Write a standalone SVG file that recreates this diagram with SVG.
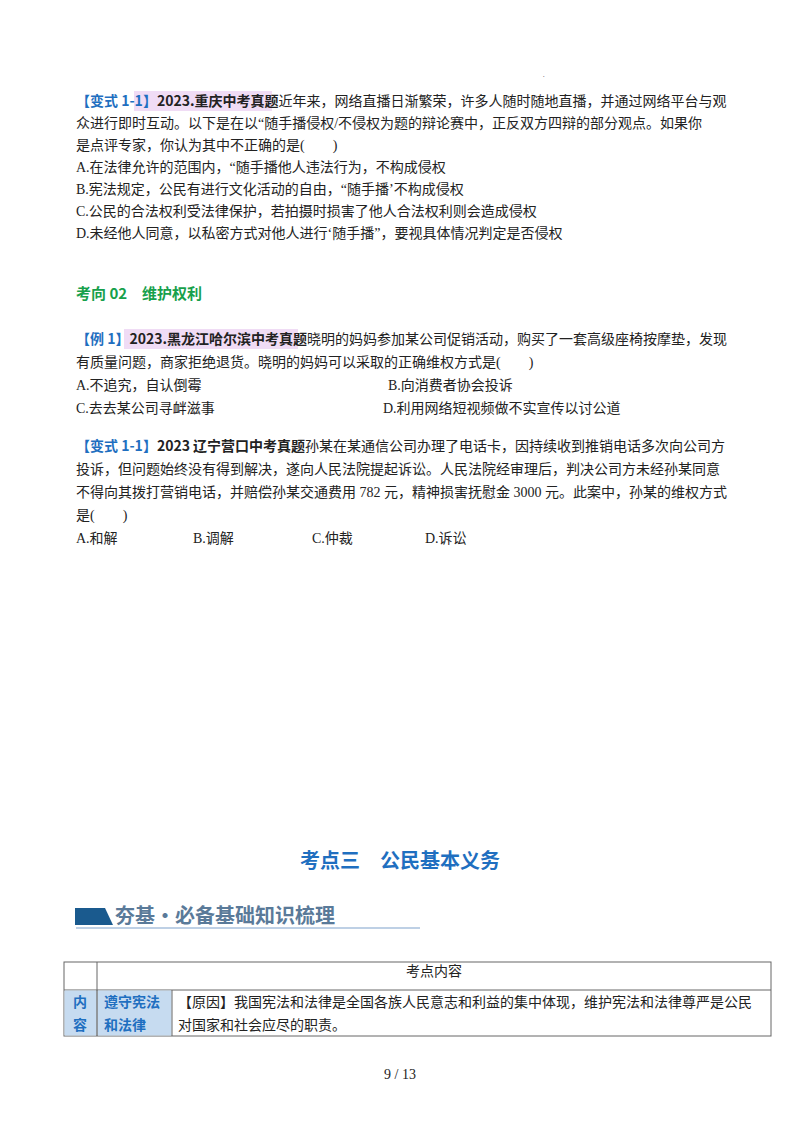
<svg xmlns="http://www.w3.org/2000/svg" width="800" height="1132" viewBox="0 0 800 1132">
<style>
text{font-family:"Liberation Serif","Noto Sans CJK SC",serif;font-size:14px;fill:#222}
.b{fill:#1f6fc0;font-weight:bold;font-family:"Noto Sans CJK SC",sans-serif}
.k{font-weight:bold;font-family:"Noto Sans CJK SC",sans-serif}
.g{fill:#17a04b;font-weight:bold;font-family:"Noto Sans CJK SC",sans-serif;font-size:15px}
.c{fill:#1f6fc0;font-weight:bold;font-family:"Noto Sans CJK SC",sans-serif}
.h{font-size:20px}
</style>
<rect width="800" height="1132" fill="#fff"/>
<text x="543" y="77" style="font-size:6px">.</text>
<rect x="134" y="91" width="138" height="20" fill="#f0dcf5"/>
<text x="76" y="106"><tspan class="b">【变式 1-1】</tspan><tspan class="k">2023.重庆中考真题</tspan>近年来，网络直播日渐繁荣，许多人随时随地直播，并通过网络平台与观</text>
<text x="76" y="128">众进行即时互动。以下是在以“随手播侵权/不侵权为题的辩论赛中，正反双方四辩的部分观点。如果你</text>
<text x="76" y="150">是点评专家，你认为其中不正确的是(　　)</text>
<text x="76" y="172">A.在法律允许的范围内，“随手播他人违法行为，不构成侵权</text>
<text x="76" y="194">B.宪法规定，公民有进行文化活动的自由，“随手播’不构成侵权</text>
<text x="76" y="216">C.公民的合法权利受法律保护，若拍摄时损害了他人合法权利则会造成侵权</text>
<text x="76" y="238">D.未经他人同意，以私密方式对他人进行‘随手播”，要视具体情况判定是否侵权</text>
<text x="76" y="299" class="g">考向 02　维护权利</text>
<rect x="124" y="329" width="174" height="20" fill="#f0dcf5"/>
<text x="76" y="344"><tspan class="b">【例 1】</tspan><tspan class="k">2023.黑龙江哈尔滨中考真题</tspan>晓明的妈妈参加某公司促销活动，购买了一套高级座椅按摩垫，发现</text>
<text x="76" y="367">有质量问题，商家拒绝退货。晓明的妈妈可以采取的正确维权方式是(　　)</text>
<text x="76" y="390">A.不追究，自认倒霉</text>
<text x="388" y="390">B.向消费者协会投诉</text>
<text x="76" y="413">C.去去某公司寻衅滋事</text>
<text x="383" y="413">D.利用网络短视频做不实宣传以讨公道</text>
<text x="76" y="451"><tspan class="b">【变式 1-1】</tspan><tspan class="k">2023 辽宁营口中考真题</tspan>孙某在某通信公司办理了电话卡，因持续收到推销电话多次向公司方</text>
<text x="76" y="474">投诉，但问题始终没有得到解决，遂向人民法院提起诉讼。人民法院经审理后，判决公司方未经孙某同意</text>
<text x="76" y="497">不得向其拨打营销电话，并赔偿孙某交通费用 782 元，精神损害抚慰金 3000 元。此案中，孙某的维权方式</text>
<text x="76" y="520">是(　　)</text>
<text x="76" y="543">A.和解</text>
<text x="193" y="543">B.调解</text>
<text x="312" y="543">C.仲裁</text>
<text x="425" y="543">D.诉讼</text>
<text x="400" y="868" class="c h" text-anchor="middle">考点三　公民基本义务</text>
<path d="M75 908 H105 L113 925 H75 Z" fill="#1a5a8e"/>
<text x="115" y="923" class="h" style="font-weight:bold;fill:#5a7a99;font-family:'Noto Sans CJK SC',sans-serif">夯基·必备基础知识梳理</text>
<line x1="76" y1="928" x2="420" y2="928" stroke="#a8c0dc" stroke-width="1.5"/>
<g stroke="#666" stroke-width="1" fill="none">
<rect x="64" y="962" width="707" height="74"/>
<line x1="97" y1="962" x2="97" y2="1036"/>
<line x1="64" y1="990" x2="771" y2="990"/>
</g>
<rect x="64.5" y="990.5" width="32" height="45" fill="#c6dbf0"/>
<rect x="97.5" y="990.5" width="74" height="45" fill="#c6dbf0"/>
<line x1="172" y1="990" x2="172" y2="1036" stroke="#666"/>
<line x1="97" y1="990" x2="97" y2="1036" stroke="#666"/>
<text x="434" y="976" text-anchor="middle">考点内容</text>
<text x="73" y="1007" class="c">内</text>
<text x="73" y="1030" class="c">容</text>
<text x="104" y="1007" class="c">遵守宪法</text>
<text x="104" y="1030" class="c">和法律</text>
<text x="178" y="1007">【原因】我国宪法和法律是全国各族人民意志和利益的集中体现，维护宪法和法律尊严是公民</text>
<text x="178" y="1030">对国家和社会应尽的职责。</text>
<text x="400" y="1079" text-anchor="middle">9 / 13</text>
</svg>
